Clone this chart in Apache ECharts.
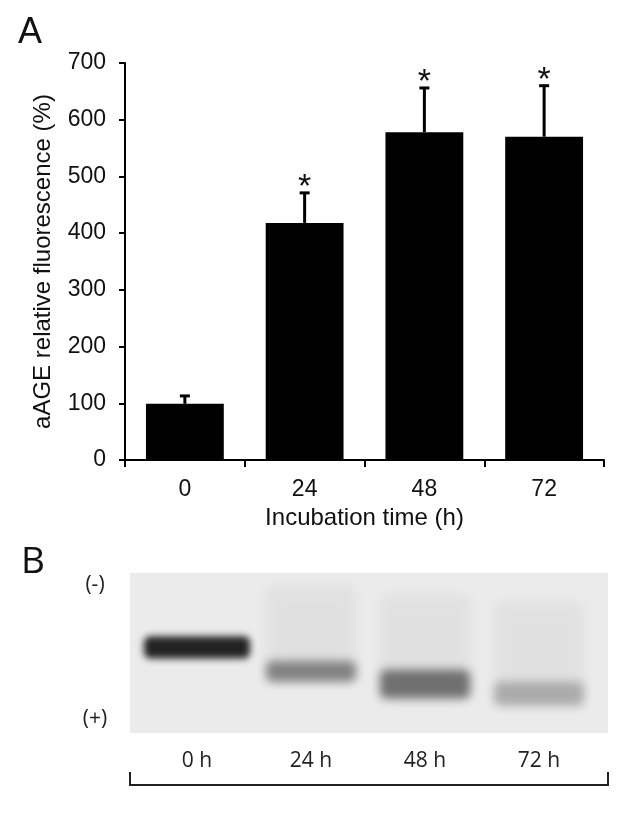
<!DOCTYPE html>
<html><head><meta charset="utf-8">
<script src="https://cdn.jsdelivr.net/npm/echarts@6/dist/echarts.min.js"></script>
<style>html,body{margin:0;padding:0;background:#fff}#c{width:635px;height:813px}</style>
</head><body><div id="c"></div>
<script>
// ---- Panel A data ----
const categories = ['0', '24', '48', '72'];
const fluorescence = [99, 418, 578, 570];
const errorPlus = [14, 53, 78, 90];
const significant = [false, true, true, true];
const yMin = 0, yMax = 700, yStep = 100;

// ---- Panel B data (gel) ----
const lanes = ['0 h', '24 h', '48 h', '72 h'];
const bandCenter = [46.5, 61.5, 69.5, 75.5]; // migration, % of gel height from top
const bandThickness = [14, 13, 18, 15];      // % of gel height
const bandIntensity = [0.85, 0.42, 0.5, 0.24];
const smearTop = [null, 8, 14, 19];          // start of faint smear, % of gel height

const FONT = "'Liberation Sans', Arial, sans-serif";
const FONT_B = "'Open Sans', 'Liberation Sans', sans-serif";

const chart = echarts.init(document.getElementById('c'), null, {renderer: 'canvas'});

const errData = fluorescence.map((v, i) => [i, v, errorPlus[i], significant[i] ? 1 : 0]);
const gelData = lanes.map((l, i) => [i, bandCenter[i], bandThickness[i], bandIntensity[i], smearTop[i] == null ? -1 : smearTop[i]]);

const OFF = 3000; // draw shapes off-canvas and keep only their blurred shadow

const option = {
  animation: false,
  backgroundColor: '#fff',
  grid: [
    {left: 125, right: 31, top: 63, bottom: 353, containLabel: false},
    {left: 140, right: 39, top: 573, bottom: 80, containLabel: false}
  ],
  xAxis: [
    {
      type: 'category', gridIndex: 0, data: categories,
      axisLine: {lineStyle: {color: '#000', width: 2}},
      axisTick: {show: true, length: 7, lineStyle: {color: '#000', width: 2}, alignWithLabel: false},
      axisLabel: {color: '#111', fontSize: 23, fontFamily: FONT, margin: 18},
      name: 'Incubation time (h)', nameLocation: 'middle', nameGap: 46,
      nameTextStyle: {color: '#111', fontSize: 24, fontFamily: FONT}
    },
    {
      type: 'category', gridIndex: 1, data: lanes,
      axisLine: {show: false}, axisTick: {show: false},
      axisLabel: {color: '#222', fontSize: 21, fontFamily: FONT_B, margin: 18}
    }
  ],
  yAxis: [
    {
      type: 'value', gridIndex: 0, min: yMin, max: yMax, interval: yStep,
      axisLine: {show: true, lineStyle: {color: '#000', width: 2}},
      axisTick: {show: true, length: 6, lineStyle: {color: '#000', width: 2}},
      splitLine: {show: false},
      axisLabel: {color: '#111', fontSize: 23, fontFamily: FONT, margin: 19},
      name: 'aAGE relative fluorescence (%)', nameLocation: 'middle', nameGap: 70,
      nameTextStyle: {color: '#111', fontSize: 24, fontFamily: FONT}
    },
    {
      type: 'value', gridIndex: 1, min: 0, max: 100, inverse: true, show: false
    }
  ],
  series: [
    {
      type: 'bar', xAxisIndex: 0, yAxisIndex: 0, data: fluorescence,
      barWidth: '65%', itemStyle: {color: '#000'}, z: 2
    },
    {
      type: 'custom', xAxisIndex: 0, yAxisIndex: 0, data: errData, z: 3,
      encode: {x: 0, y: 1},
      renderItem: function (params, api) {
        const i = api.value(0);
        const v = api.value(1);
        const e = api.value(2);
        const s = api.value(3);
        const base = api.coord([i, v]);
        const top = api.coord([i, v + e]);
        const children = [
          {type: 'line', shape: {x1: base[0], y1: base[1], x2: top[0], y2: top[1]}, style: {stroke: '#000', lineWidth: 3}},
          {type: 'line', shape: {x1: top[0] - 5, y1: top[1], x2: top[0] + 5, y2: top[1]}, style: {stroke: '#000', lineWidth: 3}}
        ];
        if (s) {
          children.push({type: 'text', x: top[0], y: top[1] - 5,
            style: {text: '*', fontSize: 34, fontFamily: FONT, fill: '#111', align: 'center', verticalAlign: 'middle'}});
        }
        return {type: 'group', children: children};
      }
    },
    {
      type: 'custom', xAxisIndex: 1, yAxisIndex: 1, data: gelData, z: 3, clip: false,
      encode: {x: 0, y: 1},
      renderItem: function (params, api) {
        const i = api.value(0);
        const c = api.value(1);
        const t = api.value(2);
        const a = api.value(3);
        const st = api.value(4);
        const laneW = api.size([1, 0])[0] * (i === 0 ? 0.93 : 0.79);
        const p1 = api.coord([i, c - t / 2]);
        const p2 = api.coord([i, c + t / 2]);
        const children = [];
        if (st >= 0) {
          const s1 = api.coord([i, st]);
          children.push({type: 'rect',
            shape: {x: p1[0] - laneW / 2 - OFF, y: s1[1], width: laneW, height: p2[1] - s1[1]},
            style: {fill: '#000', shadowOffsetX: OFF, shadowBlur: 12, shadowColor: 'rgba(0,0,0,0.045)'}});
        }
        children.push({type: 'rect',
          shape: {x: p1[0] - laneW / 2 - OFF, y: p1[1], width: laneW, height: p2[1] - p1[1], r: 6},
          style: {fill: '#000', shadowOffsetX: OFF, shadowBlur: (i === 0 ? 7 : 10), shadowColor: 'rgba(0,0,0,' + a + ')'}});
        return {type: 'group', children: children};
      }
    }
  ],
  graphic: [
    {type: 'text', x: 18, y: 33, z: 5, style: {text: 'A', fontSize: 36, fontFamily: FONT, fill: '#111', verticalAlign: 'middle'}},
    {type: 'text', x: 21, y: 562, z: 5, style: {text: 'B', fontSize: 37, fontFamily: FONT_B, fill: '#111', verticalAlign: 'middle'}},
    {type: 'rect', z: -10, shape: {x: 130, y: 573, width: 478, height: 160}, style: {fill: '#ebebeb'}},
    {type: 'text', x: 95, y: 585, style: {text: '(-)', fontSize: 21, fontFamily: FONT_B, fill: '#222', align: 'center', verticalAlign: 'middle'}},
    {type: 'text', x: 95, y: 719, style: {text: '(+)', fontSize: 21, fontFamily: FONT_B, fill: '#222', align: 'center', verticalAlign: 'middle'}},
    {type: 'polyline', shape: {points: [[130, 772], [130, 785], [608, 785], [608, 772]]}, style: {stroke: '#222', lineWidth: 2, fill: null}}
  ]
};
chart.setOption(option);
</script></body></html>
